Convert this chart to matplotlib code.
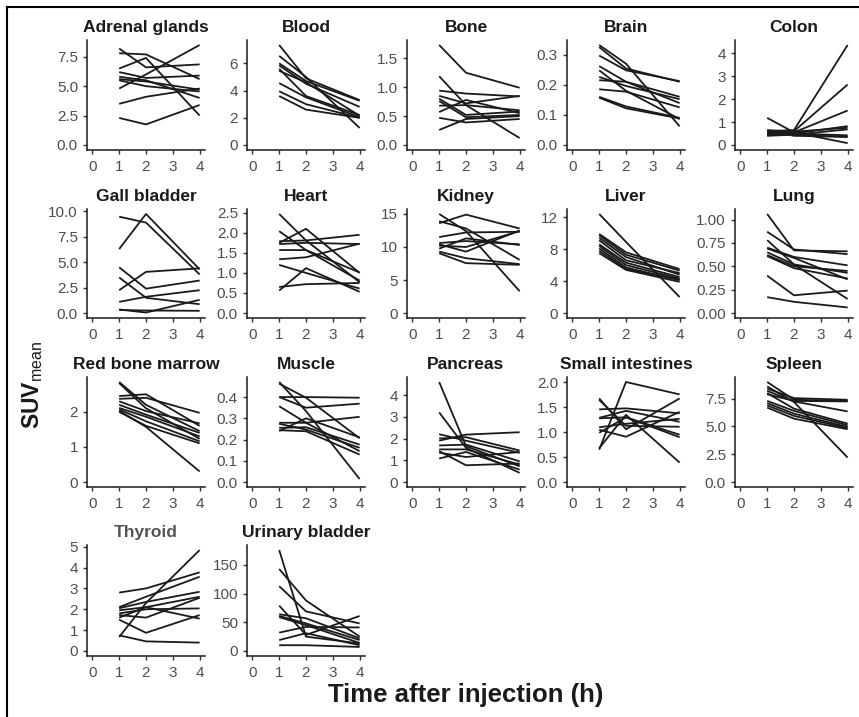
import matplotlib
matplotlib.use("Agg")
import matplotlib.pyplot as plt
from matplotlib.lines import Line2D

plt.rcParams["font.family"] = ["Liberation Sans", "DejaVu Sans"]
plt.rcParams["mathtext.fontset"] = "custom"
plt.rcParams["mathtext.rm"] = "Liberation Sans"
plt.rcParams["mathtext.bf"] = "Liberation Sans:bold"

# ---------------- data ----------------
times = [1, 2, 4]
xticks = [0, 1, 2, 3, 4]

adrenal_glands = [[7.8, 7.7, 5.6], [8.2, 6.6, 6.85], [6.5, 7.4, 2.5], [4.8, 6.0, 8.5],
                  [6.2, 5.7, 5.9], [5.8, 5.5, 4.0], [5.6, 5.4, 4.7], [5.5, 5.0, 4.55],
                  [3.5, 4.1, 4.8], [2.3, 1.75, 3.4]]
blood = [[7.35, 4.9, 3.3], [6.55, 5.0, 1.25], [6.0, 4.7, 3.25], [5.85, 4.5, 2.8],
         [5.6, 3.6, 2.2], [5.45, 4.6, 2.15], [4.55, 3.5, 2.05], [3.95, 3.0, 2.0],
         [3.6, 2.6, 2.0]]
bone = [[1.73, 1.25, 0.99], [1.19, 0.69, 0.6], [0.94, 0.89, 0.84], [0.85, 0.72, 0.85],
        [0.8, 0.52, 0.58], [0.76, 0.48, 0.52], [0.68, 0.69, 0.12], [0.57, 0.78, 0.55],
        [0.47, 0.39, 0.45], [0.26, 0.45, 0.5]]
brain = [[0.332, 0.27, 0.062], [0.325, 0.254, 0.21], [0.297, 0.248, 0.212],
         [0.262, 0.21, 0.139], [0.248, 0.18, 0.086], [0.226, 0.196, 0.152],
         [0.215, 0.21, 0.16], [0.185, 0.177, 0.125], [0.16, 0.128, 0.09],
         [0.157, 0.122, 0.088]]
colon = [[0.6, 0.65, 4.35], [0.55, 0.6, 2.63], [0.5, 0.55, 1.5], [0.45, 0.5, 0.82],
         [0.65, 0.58, 0.75], [0.4, 0.45, 0.68], [1.18, 0.55, 0.08], [0.5, 0.45, 0.36],
         [0.62, 0.4, 0.35], [0.42, 0.5, 0.42]]
gall_bladder = [[9.48, 8.9, 3.8], [6.3, 9.75, 4.3], [4.5, 2.4, 3.2], [3.5, 1.5, 0.87],
                [2.25, 4.05, 4.4], [1.1, 1.6, 2.25], [0.3, 0.25, 0.22], [0.35, 0.05, 1.3]]
heart = [[2.47, 1.81, 0.77], [2.04, 1.57, 0.81], [1.79, 1.81, 1.95], [1.75, 2.1, 1.0],
         [1.72, 1.75, 1.72], [1.57, 1.57, 1.01], [1.34, 1.39, 1.73], [1.2, 1.0, 0.61],
         [0.56, 1.12, 0.53], [0.65, 0.72, 0.75]]
kidney = [[15.0, 12.4, 3.3], [13.9, 12.8, 8.05], [13.6, 14.9, 12.8], [11.5, 12.2, 12.3],
          [10.6, 10.9, 10.4], [10.4, 9.3, 12.5], [9.75, 11.3, 10.3], [9.3, 8.3, 7.4],
          [9.05, 7.55, 7.3], [10.2, 10.0, 12.4]]
liver = [[12.4, 8.9, 2.0], [9.9, 7.6, 5.5], [9.7, 7.3, 5.3], [9.4, 7.0, 4.8],
         [9.1, 6.6, 5.0], [8.6, 6.3, 4.5], [8.4, 6.0, 4.3], [8.1, 5.7, 4.1],
         [7.8, 5.5, 4.2], [7.5, 5.4, 3.9]]
lung = [[1.06, 0.67, 0.66], [0.87, 0.68, 0.63], [0.78, 0.52, 0.15], [0.70, 0.60, 0.51],
        [0.69, 0.59, 0.36], [0.62, 0.50, 0.45], [0.61, 0.48, 0.37], [0.40, 0.19, 0.24],
        [0.17, 0.12, 0.06], [0.65, 0.52, 0.43]]
red_bone_marrow = [[2.85, 2.2, 1.45], [2.82, 2.1, 1.23], [2.45, 2.5, 1.6], [2.37, 2.4, 1.97],
                   [2.3, 2.02, 1.67], [2.2, 1.92, 1.4], [2.11, 1.86, 1.3], [2.07, 1.73, 1.16],
                   [2.0, 1.6, 1.1], [2.03, 1.57, 0.3]]
muscle = [[0.471, 0.334, 0.014], [0.463, 0.397, 0.206], [0.40, 0.40, 0.397],
          [0.40, 0.35, 0.369], [0.357, 0.279, 0.145], [0.279, 0.279, 0.307],
          [0.274, 0.247, 0.161], [0.255, 0.258, 0.176], [0.244, 0.239, 0.129],
          [0.24, 0.30, 0.21]]
pancreas = [[4.6, 1.65, 0.72], [3.2, 1.57, 0.42], [2.2, 1.9, 1.34], [2.0, 2.06, 1.45],
            [1.9, 2.18, 2.29], [1.68, 1.72, 0.95], [1.5, 1.5, 0.8], [1.42, 0.77, 0.85],
            [1.35, 1.15, 1.38], [1.08, 1.38, 0.57]]
small_intestines = [[0.65, 2.01, 1.76], [0.68, 1.35, 0.39], [1.68, 1.06, 1.68],
                    [1.65, 1.13, 1.11], [1.46, 1.48, 1.38], [1.29, 1.43, 1.21],
                    [1.28, 1.3, 0.9], [1.1, 1.17, 1.27], [1.05, 0.91, 1.41],
                    [0.99, 1.3, 0.95]]
spleen = [[8.6, 7.2, 2.2], [9.0, 7.4, 7.3], [8.4, 7.55, 7.4], [8.2, 7.25, 6.35],
          [7.9, 7.3, 7.25], [7.3, 6.4, 5.1], [7.1, 6.15, 4.95], [6.9, 5.95, 4.85],
          [6.7, 5.7, 4.75], [8.0, 6.6, 5.25]]
thyroid = [[0.67, 2.3, 4.84], [2.8, 3.0, 3.77], [2.1, 2.6, 3.56], [2.05, 2.35, 2.84],
           [1.95, 2.1, 2.6], [1.8, 2.0, 2.04], [1.72, 1.6, 2.55], [1.6, 2.1, 1.55],
           [1.5, 0.87, 1.72], [0.75, 0.46, 0.4]]
urinary_bladder = [[176, 25, 13], [143, 88, 25], [113, 69, 48], [79, 28, 61],
                   [64, 57, 22], [61, 48, 19], [59, 45, 14], [32, 42, 41],
                   [19, 31, 10], [10, 10, 7]]

organs = ["Adrenal glands", "Blood", "Bone", "Brain", "Colon",
          "Gall bladder", "Heart", "Kidney", "Liver", "Lung",
          "Red bone marrow", "Muscle", "Pancreas", "Small intestines", "Spleen",
          "Thyroid", "Urinary bladder"]
series = [adrenal_glands, blood, bone, brain, colon,
          gall_bladder, heart, kidney, liver, lung,
          red_bone_marrow, muscle, pancreas, small_intestines, spleen,
          thyroid, urinary_bladder]
ytick_labels = [
    ["0.0", "2.5", "5.0", "7.5"], ["0", "2", "4", "6"], ["0.0", "0.5", "1.0", "1.5"],
    ["0.0", "0.1", "0.2", "0.3"], ["0", "1", "2", "3", "4"],
    ["0.0", "2.5", "5.0", "7.5", "10.0"], ["0.0", "0.5", "1.0", "1.5", "2.0", "2.5"],
    ["0", "5", "10", "15"], ["0", "4", "8", "12"], ["0.00", "0.25", "0.50", "0.75", "1.00"],
    ["0", "1", "2"], ["0.0", "0.1", "0.2", "0.3", "0.4"], ["0", "1", "2", "3", "4"],
    ["0.0", "0.5", "1.0", "1.5", "2.0"], ["0.0", "2.5", "5.0", "7.5"],
    ["0", "1", "2", "3", "4", "5"], ["0", "50", "100", "150"]]

# ---------------- layout ----------------
W, H = 859, 717
fig = plt.figure(figsize=(W / 100, H / 100), dpi=100)
fig.patch.set_facecolor("white")

col_left = [87, 247, 407, 567, 735]
panel_w = 118
row_top = [40, 209, 377, 545]
row_bot = [150, 318, 487, 656]

line_col = "#1a1a1a"
tick_col = "#4d4d4d"

for i, (name, data, labs) in enumerate(zip(organs, series, ytick_labels)):
    r, c = divmod(i, 5)
    l, t, b = col_left[c], row_top[r], row_bot[r]
    ax = fig.add_axes([l / W, 1 - b / H, panel_w / W, (b - t) / H])
    for s in data:
        ax.plot(times, s, color=line_col, lw=1.3, solid_capstyle="butt")
    ymax = max(max(s) for s in data)
    ax.set_ylim(-0.05 * ymax, 1.05 * ymax)
    ax.set_xlim(-0.2, 4.2)
    ax.set_xticks(xticks)
    ax.set_xticklabels([str(x) for x in xticks])
    ax.set_yticks([float(v) for v in labs])
    ax.set_yticklabels(labs)
    for sp in ["top", "right"]:
        ax.spines[sp].set_visible(False)
    for sp in ["left", "bottom"]:
        ax.spines[sp].set_color(line_col)
        ax.spines[sp].set_linewidth(1.1)
    ax.tick_params(axis="both", direction="out", length=3, width=1.0,
                   color="#333333", labelcolor=tick_col, labelsize=11)
    ax.tick_params(axis="y", pad=3.5)
    ax.tick_params(axis="x", pad=4.5)
    ax.set_facecolor("none")
    ax.set_title(name, fontsize=12.5, fontweight="bold", pad=5.5,
                 color="#555555" if name == "Thyroid" else "#1a1a1a")

fig.text(466 / W, 1 - 695 / H, "Time after injection (h)", ha="center", va="center",
         fontsize=18.5, fontweight="bold", color="#1a1a1a")
fig.text(33 / W, 1 - 385 / H, r"$\mathbf{SUV}_{\mathrm{mean}}$", rotation=90,
         ha="center", va="center", fontsize=16.5, color="#1a1a1a")

# frame (top and left edges visible)
fig.add_artist(Line2D([7 / W, 7 / W], [0, 1 - 7 / H], transform=fig.transFigure,
                      color="black", lw=1.5))
fig.add_artist(Line2D([7 / W, 1], [1 - 7 / H, 1 - 7 / H], transform=fig.transFigure,
                      color="black", lw=1.5))

fig.savefig("out.png", dpi=100, facecolor="white")
